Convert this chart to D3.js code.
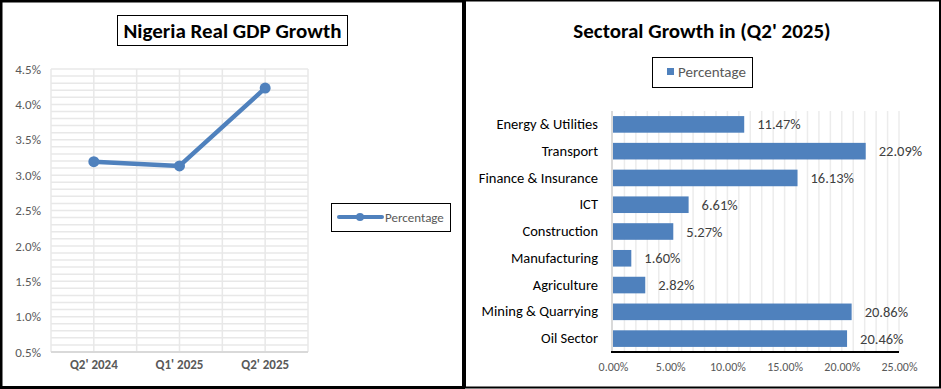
<!DOCTYPE html>
<html>
<head>
<meta charset="utf-8">
<script src="https://cdn.jsdelivr.net/npm/d3@7"></script>
<style>
  body { margin: 0; background: #fff; }
  svg text { font-family: Carlito, Lato, "Open Sans", sans-serif; }
</style>
</head>
<body>
<script>
const width = 941;
const height = 389;
const blue = "#4f81bd";

// left chart data
const quarters = ["Q2' 2024", "Q1' 2025", "Q2' 2025"];
const gdpGrowth = [3.19, 3.13, 4.23];
const gdpTicks = [0.5, 1.0, 1.5, 2.0, 2.5, 3.0, 3.5, 4.0, 4.5];

// right chart data
const sectors = ["Energy & Utilities", "Transport", "Finance & Insurance", "ICT",
    "Construction", "Manufacturing", "Agriculture", "Mining & Quarrying", "Oil Sector"];
const sectorGrowth = [11.47, 22.09, 16.13, 6.61, 5.27, 1.60, 2.82, 20.86, 20.46];
const sectorTicks = [0, 5, 10, 15, 20, 25];

let svg = d3.select("body").append("svg")
    .attr("width", width)
    .attr("height", height);

// panel borders
svg.append("rect").attr("x", 1).attr("y", 1).attr("width", 462.5).attr("height", 386.5)
    .attr("fill", "none").attr("stroke", "#000").attr("stroke-width", 3);
svg.append("rect").attr("x", 465).attr("y", 0.5).attr("width", 475).attr("height", 387)
    .attr("fill", "none").attr("stroke", "#000").attr("stroke-width", 2);

// ---------- left: line chart ----------
let left = svg.append("g");

let y1 = d3.scaleLinear().domain([0.5, 4.5]).range([352, 69]);
let x1 = d3.scaleBand().domain(quarters).range([51, 308]);

// minor grid every 0.1%
let minor = d3.range(5, 46).map(function(d) { return d / 10; });
left.selectAll(".hgrid").data(minor).enter().append("line")
    .attr("x1", 51).attr("x2", 308)
    .attr("y1", function(d) { return y1(d); })
    .attr("y2", function(d) { return y1(d); })
    .attr("stroke", "#e8e8e8").attr("stroke-width", 1.5);

let vlines = [];
quarters.forEach(function(q) {
    vlines.push(x1(q));
    vlines.push(x1(q) + x1.bandwidth() / 2);
});
vlines.push(x1.range()[1]);
left.selectAll(".vgrid").data(vlines).enter().append("line")
    .attr("x1", function(d) { return d; }).attr("x2", function(d) { return d; })
    .attr("y1", 69).attr("y2", 352)
    .attr("stroke", "#e8e8e8").attr("stroke-width", 1.5);

left.append("line").attr("x1", 51).attr("x2", 308).attr("y1", 352).attr("y2", 352)
    .attr("stroke", "#d9d9d9").attr("stroke-width", 2);

let yAxis1 = left.append("g").attr("transform", "translate(41,0)")
    .call(d3.axisLeft(y1).tickValues(gdpTicks).tickSize(0).tickPadding(0)
        .tickFormat(function(d) { return d.toFixed(1) + "%"; }));
yAxis1.select(".domain").remove();
yAxis1.selectAll("text").attr("fill", "#595959").style("font-size", "13px");

let xAxis1 = left.append("g").attr("transform", "translate(0,360)")
    .call(d3.axisBottom(x1).tickSize(0).tickPadding(0));
xAxis1.select(".domain").remove();
xAxis1.selectAll("text").attr("fill", "#595959").style("font-size", "13px")
    .style("font-weight", "bold");

let line = d3.line()
    .x(function(d, i) { return x1(quarters[i]) + x1.bandwidth() / 2; })
    .y(function(d) { return y1(d); });
left.append("path").datum(gdpGrowth)
    .attr("d", line).attr("fill", "none")
    .attr("stroke", blue).attr("stroke-width", 4.5).attr("stroke-linejoin", "round");
left.selectAll(".dot").data(gdpGrowth).enter().append("circle")
    .attr("cx", function(d, i) { return x1(quarters[i]) + x1.bandwidth() / 2; })
    .attr("cy", function(d) { return y1(d); })
    .attr("r", 5.5).attr("fill", blue);

// title
left.append("rect").attr("x", 117.5).attr("y", 15.5).attr("width", 230).attr("height", 30)
    .attr("fill", "#fff").attr("stroke", "#000").attr("stroke-width", 1);
left.append("text").attr("x", 232.5).attr("y", 38).attr("text-anchor", "middle")
    .style("font-size", "21px").style("font-weight", "bold").attr("fill", "#000")
    .text("Nigeria Real GDP Growth");

// legend
left.append("rect").attr("x", 331.5).attr("y", 203.5).attr("width", 119).attr("height", 28)
    .attr("fill", "#fff").attr("stroke", "#000").attr("stroke-width", 1);
left.append("line").attr("x1", 339).attr("x2", 382).attr("y1", 217).attr("y2", 217)
    .attr("stroke", blue).attr("stroke-width", 4).attr("stroke-linecap", "round");
left.append("circle").attr("cx", 360).attr("cy", 217).attr("r", 4).attr("fill", blue);
left.append("text").attr("x", 385).attr("y", 221.5)
    .style("font-size", "13px").attr("fill", "#595959").text("Percentage");

// ---------- right: bar chart ----------
let right = svg.append("g");

let x2 = d3.scaleLinear().domain([0, 25]).range([613, 899]);
let y2 = d3.scaleBand().domain(sectors).range([111, 352]).paddingInner(0.38).paddingOuter(0.19);

right.selectAll(".vgrid").data(d3.range(1, 26)).enter().append("line")
    .attr("x1", function(d) { return x2(d); }).attr("x2", function(d) { return x2(d); })
    .attr("y1", 111).attr("y2", 352)
    .attr("stroke", "#ececec").attr("stroke-width", 1.5);

right.append("line").attr("x1", 612).attr("x2", 612).attr("y1", 111).attr("y2", 352)
    .attr("stroke", "#d9d9d9").attr("stroke-width", 2);

right.selectAll(".bar").data(sectorGrowth).enter().append("rect")
    .attr("x", x2(0))
    .attr("y", function(d, i) { return y2(sectors[i]); })
    .attr("width", function(d) { return x2(d) - x2(0); })
    .attr("height", y2.bandwidth())
    .attr("fill", blue);

right.selectAll(".val").data(sectorGrowth).enter().append("text")
    .attr("x", function(d) { return x2(d) + 13; })
    .attr("y", function(d, i) { return y2(sectors[i]) + y2.bandwidth() / 2 + 5; })
    .style("font-size", "14.5px").attr("fill", "#404040")
    .text(function(d) { return d.toFixed(2) + "%"; });

let yAxis2 = right.append("g").attr("transform", "translate(598,0)")
    .call(d3.axisLeft(y2).tickSize(0).tickPadding(0));
yAxis2.select(".domain").remove();
yAxis2.selectAll("text").attr("fill", "#000").style("font-size", "14.5px");

right.append("line").attr("x1", 611).attr("x2", 899).attr("y1", 352).attr("y2", 352)
    .attr("stroke", "#000").attr("stroke-width", 2);

let xAxis2 = right.append("g").attr("transform", "translate(0,362)")
    .call(d3.axisBottom(x2).tickValues(sectorTicks).tickSize(0).tickPadding(0)
        .tickFormat(function(d) { return d.toFixed(2) + "%"; }));
xAxis2.select(".domain").remove();
xAxis2.selectAll("text").attr("fill", "#595959").style("font-size", "12px");

right.append("text").attr("x", 702).attr("y", 38).attr("text-anchor", "middle")
    .style("font-size", "21px").style("font-weight", "bold").attr("fill", "#000")
    .text("Sectoral Growth in (Q2' 2025)");

right.append("rect").attr("x", 652.5).attr("y", 57.5).attr("width", 100).attr("height", 30)
    .attr("fill", "#fff").attr("stroke", "#000").attr("stroke-width", 1);
right.append("rect").attr("x", 667).attr("y", 68).attr("width", 7).attr("height", 7).attr("fill", blue);
right.append("text").attr("x", 678).attr("y", 77)
    .style("font-size", "15px").attr("fill", "#595959").text("Percentage");
</script>
</body>
</html>
